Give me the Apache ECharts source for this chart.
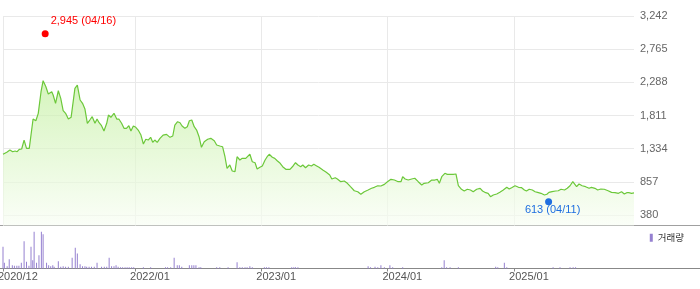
<!DOCTYPE html>
<html><head><meta charset="utf-8">
<script src="https://cdn.jsdelivr.net/npm/echarts@6/dist/echarts.min.js"></script>
<style>html,body{margin:0;padding:0;background:#fff}#c{width:700px;height:289px}</style>
</head><body><div id="c"></div>
<script>
const dates = ['2020-12-15','2020-12-18','2020-12-26','2021-01-04','2021-01-12','2021-01-19','2021-01-25','2021-01-31','2021-02-07','2021-02-14','2021-02-21','2021-03-01','2021-03-12','2021-03-20','2021-03-27','2021-04-04','2021-04-10','2021-04-18','2021-04-25','2021-04-30','2021-05-05','2021-05-09','2021-05-16','2021-05-24','2021-05-31','2021-06-07','2021-06-14','2021-06-22','2021-06-30','2021-07-04','2021-07-11','2021-07-18','2021-07-26','2021-08-02','2021-08-09','2021-08-16','2021-08-23','2021-08-30','2021-09-07','2021-09-13','2021-09-19','2021-09-26','2021-10-03','2021-10-11','2021-10-16','2021-10-23','2021-11-01','2021-11-09','2021-11-15','2021-11-23','2021-11-30','2021-12-07','2021-12-14','2021-12-20','2021-12-27','2022-01-03','2022-01-10','2022-01-18','2022-01-25','2022-02-01','2022-02-08','2022-02-15','2022-02-21','2022-02-27','2022-03-06','2022-03-14','2022-03-23','2022-04-02','2022-04-12','2022-04-20','2022-04-26','2022-05-04','2022-05-11','2022-05-17','2022-05-25','2022-06-01','2022-06-07','2022-06-14','2022-06-21','2022-06-28','2022-07-05','2022-07-12','2022-07-20','2022-07-30','2022-08-08','2022-08-18','2022-08-25','2022-09-03','2022-09-11','2022-09-18','2022-09-24','2022-10-02','2022-10-09','2022-10-17','2022-10-23','2022-10-31','2022-11-07','2022-11-17','2022-11-21','2022-11-29','2022-12-06','2022-12-14','2022-12-20','2022-12-28','2023-01-04','2023-01-12','2023-01-18','2023-01-24','2023-02-02','2023-02-09','2023-02-16','2023-02-23','2023-03-04','2023-03-13','2023-03-25','2023-04-03','2023-04-10','2023-04-17','2023-04-25','2023-05-01','2023-05-09','2023-05-18','2023-05-26','2023-06-02','2023-06-09','2023-06-17','2023-06-28','2023-07-08','2023-07-18','2023-07-24','2023-08-03','2023-08-09','2023-08-19','2023-08-29','2023-09-07','2023-09-16','2023-09-27','2023-10-07','2023-10-16','2023-10-26','2023-11-06','2023-11-16','2023-11-24','2023-12-04','2023-12-13','2023-12-23','2024-01-01','2024-01-11','2024-01-21','2024-02-01','2024-02-09','2024-02-14','2024-02-21','2024-03-01','2024-03-11','2024-03-20','2024-03-30','2024-04-09','2024-04-16','2024-04-28','2024-05-08','2024-05-17','2024-05-24','2024-05-30','2024-06-06','2024-06-15','2024-06-22','2024-06-30','2024-07-09','2024-07-17','2024-07-24','2024-08-02','2024-08-10','2024-08-19','2024-08-28','2024-09-05','2024-09-15','2024-09-25','2024-10-02','2024-10-11','2024-10-18','2024-10-25','2024-11-02','2024-11-12','2024-11-21','2024-12-01','2024-12-11','2024-12-18','2024-12-25','2025-01-04','2025-01-14','2025-01-23','2025-01-31','2025-02-06','2025-02-14','2025-02-23','2025-03-03','2025-03-10','2025-03-20','2025-03-30','2025-04-06','2025-04-12','2025-04-21','2025-05-01','2025-05-09','2025-05-17','2025-05-27','2025-06-04','2025-06-12','2025-06-20','2025-06-26','2025-07-01','2025-07-08','2025-07-17','2025-07-27','2025-08-06','2025-08-13','2025-08-23','2025-08-31','2025-09-09','2025-09-19','2025-09-30','2025-10-10','2025-10-20','2025-10-30','2025-11-08','2025-11-16','2025-11-23','2025-11-29','2025-12-07','2025-12-14'];
const prices = [1253,1243,1282,1315,1290,1300,1290,1325,1329,1458,1339,1339,1760,1736,1842,2153,2311,2225,2120,2144,2153,2106,1986,2167,2058,1880,1842,1760,1785,1794,2202,2249,2034,1986,1904,1699,1746,1794,1699,1760,1707,1664,1588,1699,1818,1785,1842,1760,1760,1699,1627,1627,1664,1588,1660,1641,1602,1530,1401,1469,1458,1497,1425,1458,1425,1483,1530,1540,1497,1516,1674,1722,1707,1660,1627,1650,1736,1746,1650,1602,1506,1354,1434,1469,1483,1448,1387,1372,1362,1218,1052,1099,1013,1003,1218,1171,1195,1195,1218,1253,1146,1132,1041,1066,1085,1171,1218,1253,1210,1195,1161,1132,1075,1037,1037,1085,1132,1099,1075,1099,1060,1099,1085,1109,1089,1066,1027,994,955,898,916,898,859,869,836,787,729,715,678,715,740,764,778,801,797,821,859,893,883,859,859,931,898,883,898,908,859,811,836,844,883,883,893,836,931,980,965,965,965,970,801,750,725,750,740,715,750,764,725,701,692,643,668,682,706,740,778,754,773,801,778,773,740,725,750,740,715,706,692,668,678,706,715,725,729,750,740,764,801,859,821,787,826,801,787,764,778,764,740,754,750,729,706,701,692,715,682,701,701,692,697];

const volDates = ['2020-12-15','2020-12-19','2020-12-27','2021-01-02','2021-01-11','2021-01-17','2021-01-24','2021-01-30','2021-02-06','2021-02-14','2021-02-21','2021-02-28','2021-03-06','2021-03-11','2021-03-15','2021-03-22','2021-03-29','2021-04-05','2021-04-10','2021-04-20','2021-04-26','2021-05-02','2021-05-08','2021-05-12','2021-05-24','2021-05-31','2021-06-07','2021-06-14','2021-06-22','2021-07-03','2021-07-12','2021-07-18','2021-07-26','2021-08-02','2021-08-09','2021-08-14','2021-08-21','2021-08-28','2021-09-05','2021-09-13','2021-09-26','2021-10-04','2021-10-11','2021-10-18','2021-10-25','2021-11-01','2021-11-07','2021-11-13','2021-11-20','2021-11-26','2021-12-03','2021-12-09','2021-12-15','2021-12-22','2021-12-28','2022-01-25','2022-02-15','2022-03-30','2022-04-05','2022-04-14','2022-04-24','2022-05-03','2022-05-09','2022-05-16','2022-06-07','2022-06-14','2022-06-20','2022-06-26','2022-07-05','2022-07-10','2022-08-25','2022-09-03','2022-09-27','2022-10-23','2022-10-31','2022-11-07','2022-11-15','2022-11-21','2022-11-29','2022-12-06','2023-01-10','2023-01-16','2023-01-23','2023-03-30','2023-04-05','2023-04-10','2023-04-17','2023-11-06','2023-11-13','2023-11-26','2023-12-04','2023-12-13','2023-12-23','2024-01-08','2024-01-16','2024-02-14','2024-06-06','2024-06-13','2024-06-20','2024-06-30','2024-07-24','2024-11-09','2024-11-15','2024-12-04','2024-12-11','2025-04-24','2025-05-14','2025-06-12','2025-06-21','2025-06-28'];
const volumes = [2170,570,230,930,330,270,270,270,570,2730,670,270,2170,830,3670,570,1330,3670,3430,570,330,230,330,170,730,170,230,170,170,1070,2070,1500,430,230,230,170,170,170,170,570,170,170,170,1070,230,230,330,170,130,130,130,130,130,130,130,130,130,130,130,130,1070,330,330,170,330,330,330,330,130,130,130,130,130,630,130,130,130,130,230,130,130,130,130,130,130,130,130,230,130,170,130,330,130,330,130,130,130,830,130,130,130,170,130,570,130,130,130,130,130,130];

const xTickDates = ['2020-12-15','2022-01-01','2023-01-01','2024-01-01','2025-01-01'];
const yTicks = [380, 857, 1334, 1811, 2288, 2765, 3242];
const highPoint = {date: '2021-04-16', value: 2945};
const lowPoint = {date: '2025-04-11', value: 613};
const seriesName = '거래량';

function ts(s){const p=s.split('-').map(Number);return new Date(p[0],p[1]-1,p[2]).getTime();}
function pad(n){return (n<10?'0':'')+n;}
const FONT = "'Liberation Sans', Arial, 'Noto Sans CJK KR', sans-serif";
const xMin = ts(dates[0]), xMax = ts(dates[dates.length-1]);
const xTicks = xTickDates.map(ts);

const chart = echarts.init(document.getElementById('c'), null, {renderer:'canvas'});
const markerLabel = (p) => {
  const d = new Date(p.value[0]);
  return p.value[1].toLocaleString('en-US') + ' (' + pad(d.getMonth()+1) + '/' + pad(d.getDate()) + ')';
};
chart.setOption({
  animation: false,
  textStyle: {fontFamily: FONT},
  grid: [
    {left: 3, right: 66, top: 16, bottom: 63.5, outerBoundsMode: 'none', containLabel: false},
    {left: 3, right: 66, top: 228, bottom: 20.5, outerBoundsMode: 'none', containLabel: false},
    {left: -2, right: 71, top: 228, bottom: 20.5, outerBoundsMode: 'none', containLabel: false}
  ],
  legend: {
    data: [seriesName], right: 11, top: 228, icon: 'rect', itemWidth: 3, itemHeight: 8, itemGap: 4,
    textStyle: {fontSize: 9.5, color: '#333', fontFamily: "'Noto Sans CJK KR', sans-serif"}
  },
  xAxis: [
    {type: 'value', gridIndex: 0, min: xMin, max: xMax, scale: true,
     axisLine: {show: false}, axisTick: {show: false, customValues: xTicks},
     axisLabel: {show: false, customValues: xTicks},
     splitLine: {show: true, lineStyle: {color: '#e9e9e9', width: 1}}},
    {type: 'value', gridIndex: 1, min: xMin, max: xMax, scale: true,
     axisLine: {show: false},
     axisTick: {show: true, customValues: xTicks, length: 3, lineStyle: {color: '#888'}},
     axisLabel: {show: false, customValues: xTicks},
     splitLine: {show: false}},
    {type: 'value', gridIndex: 2, min: xMin, max: xMax, scale: true,
     axisLine: {show: false}, axisTick: {show: false, customValues: xTicks},
     axisLabel: {show: true, customValues: xTicks, align: 'left', margin: 3,
       fontSize: 11, color: '#555', fontFamily: FONT, hideOverlap: false,
       formatter: (v) => { const d = new Date(v); return d.getFullYear() + '/' + pad(d.getMonth()+1); }},
     splitLine: {show: false}}
  ],
  yAxis: [
    {type: 'value', gridIndex: 0, position: 'right', min: 229, max: 3242,
     axisLine: {show: false}, axisTick: {show: false, customValues: yTicks},
     axisLabel: {customValues: yTicks, margin: 6, fontSize: 11, color: '#666', fontFamily: FONT,
       formatter: (v) => Number(v).toLocaleString('en-US')},
     splitLine: {show: true, lineStyle: {color: '#e9e9e9', width: 1}}},
    {type: 'value', gridIndex: 1, min: 0, max: 4050, show: false, splitLine: {show: false}},
    {type: 'value', gridIndex: 2, min: 0, max: 1, show: false, splitLine: {show: false}}
  ],
  series: [
    {type: 'line', name: 'price', xAxisIndex: 0, yAxisIndex: 0, showSymbol: false, silent: true, z: 2,
     data: dates.map((d, i) => [ts(d), prices[i]]),
     lineStyle: {color: '#6cc83a', width: 1.2},
     areaStyle: {color: new echarts.graphic.LinearGradient(0, 0, 0, 1, [
       {offset: 0, color: '#c3efa0'}, {offset: 1, color: '#f8fdf4'}])}},
    {type: 'scatter', name: 'high', xAxisIndex: 0, yAxisIndex: 0, silent: true, z: 10,
     data: [[ts(highPoint.date), highPoint.value]], symbolSize: 7, symbolOffset: [0, -3],
     itemStyle: {color: '#ff0000', opacity: 1},
     label: {show: true, position: 'right', distance: 2, offset: [0, -12.5], color: '#ff0000',
       fontSize: 11, fontFamily: FONT, formatter: markerLabel}},
    {type: 'scatter', name: 'low', xAxisIndex: 0, yAxisIndex: 0, silent: true, z: 10,
     data: [[ts(lowPoint.date), lowPoint.value]], symbolSize: 7, symbolOffset: [0, 3],
     itemStyle: {color: '#1f6fe0', opacity: 1},
     label: {show: true, position: 'bottom', distance: 2, offset: [4, -3], color: '#1f6fe0',
       fontSize: 11, fontFamily: FONT, formatter: markerLabel}},
    {type: 'bar', name: seriesName, xAxisIndex: 1, yAxisIndex: 1, barWidth: 1, silent: true,
     data: volDates.map((d, i) => [ts(d), volumes[i]]),
     itemStyle: {color: '#9580d0'}}
  ],
  graphic: [
    {type: 'line', shape: {x1: 0, y1: 225.5, x2: 700, y2: 225.5}, style: {stroke: '#a0a0a0', lineWidth: 1}, silent: true},
    {type: 'line', shape: {x1: 0, y1: 268.5, x2: 700, y2: 268.5}, style: {stroke: '#888', lineWidth: 1}, silent: true}
  ]
});
</script></body></html>
